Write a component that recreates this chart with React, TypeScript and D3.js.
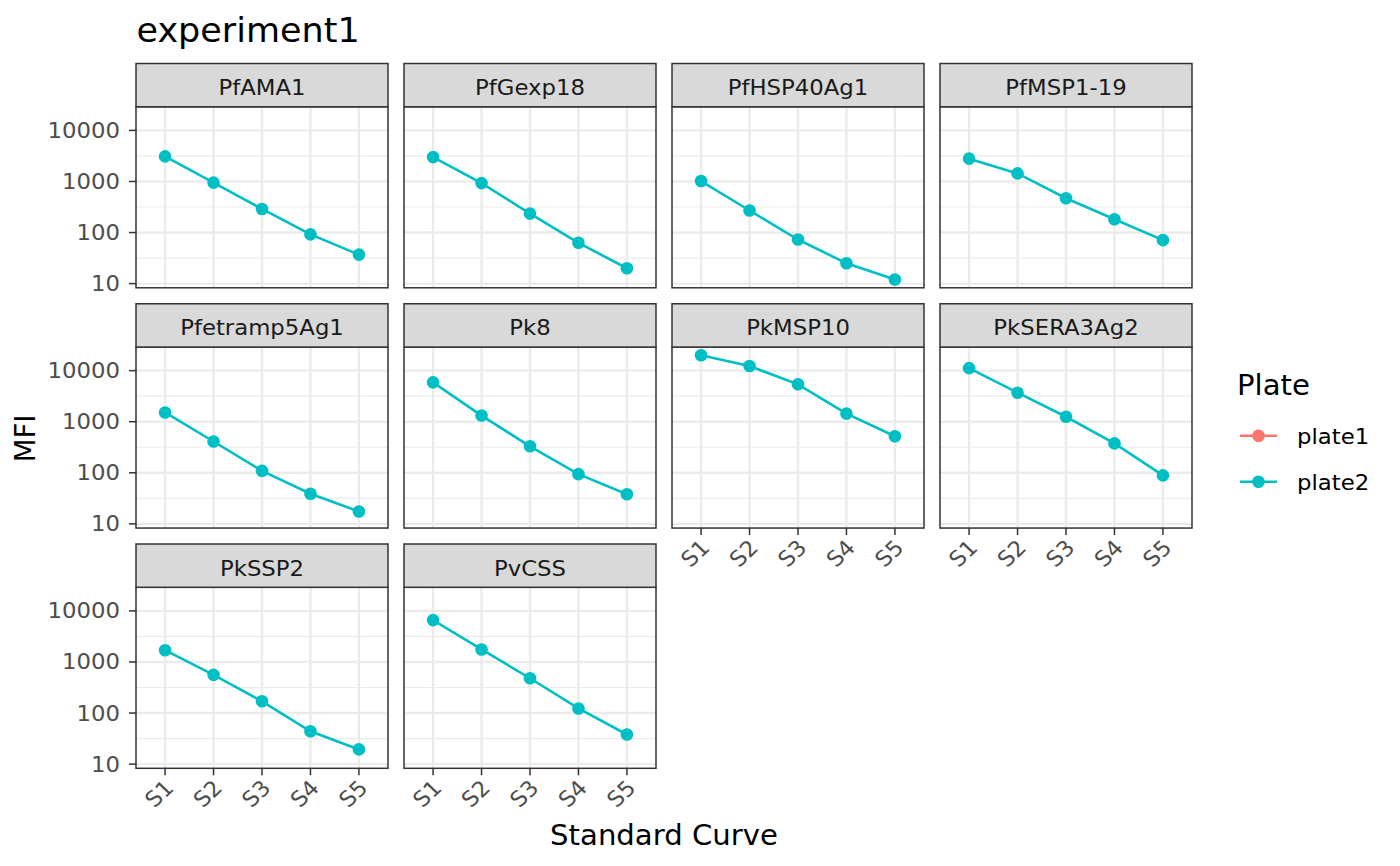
import React, { useRef, useEffect } from 'react';
import * as d3 from 'd3';

// ---- data ----
const antigens = [
  'PfAMA1', 'PfGexp18', 'PfHSP40Ag1', 'PfMSP1-19',
  'Pfetramp5Ag1', 'Pk8', 'PkMSP10', 'PkSERA3Ag2',
  'PkSSP2', 'PvCSS',
];
const standards = ['S1', 'S2', 'S3', 'S4', 'S5'];
const plates = ['plate1', 'plate2'];
const plateColors = ['#F8766D', '#00BFC4'];
// plate2 MFI for S1..S5 per antigen (plate1 sits hidden underneath in the reference)
const plate2MFI = [
  [3100, 950, 290, 92, 37],
  [3000, 930, 235, 63, 20],
  [1020, 270, 73, 25, 12],
  [2800, 1440, 470, 182, 71],
  [1520, 410, 109, 39, 17.5],
  [5900, 1320, 330, 94, 38],
  [20000, 12300, 5400, 1440, 520],
  [11200, 3700, 1250, 376, 89],
  [1700, 560, 170, 44, 19.4],
  [6600, 1760, 480, 123, 38],
];
const yTicks = [10, 100, 1000, 10000];
const yTickLabels = ['10', '100', '1000', '10000'];
const chartTitle = 'experiment1';
const xTitle = 'Standard Curve';
const yTitle = 'MFI';
const legendTitle = 'Plate';

const W = 1400;
const H = 866;

const App: React.FC = () => {
  const svgRef = useRef<SVGSVGElement | null>(null);

  useEffect(() => {
    if (!svgRef.current) return;
    document.body.style.margin = '0';
    const svg = d3.select(svgRef.current);
    svg.selectAll('*').remove();

    const font = '"DejaVu Sans", sans-serif';
    const colors = {
      grid: '#EBEBEB',
      border: '#333333',
      strip: '#D9D9D9',
      stripText: '#1A1A1A',
      axisText: '#4D4D4D',
      title: '#000000',
    };

    // layout
    const ncol = 4;
    const panelW = 252;
    const panelH = 181;
    const stripH = 43.3;
    const left0 = 136;
    const top0 = 63.5;
    const pitchX = 268;
    const pitchY = 240.25;
    const smallFont = 21.5;
    const bigFont = 27.5;
    const sx = 1.06; // the reference text runs a little wide

    // text helper: position, optional rotation, horizontal stretch
    type Sel = d3.Selection<any, unknown, null, undefined>;
    function label(parent: Sel, tx: number, ty: number, str: string, size: number,
                   fill: string, anchor = 'start', rot = 0) {
      return parent.append('text')
        .attr('transform', `translate(${tx},${ty}) scale(${sx},1)${rot ? ` rotate(${rot})` : ''}`)
        .attr('text-anchor', anchor)
        .attr('font-family', font)
        .attr('font-size', size)
        .attr('fill', fill)
        .text(str);
    }

    const x = d3.scalePoint<string>()
      .domain(standards)
      .range([0, panelW])
      .padding(0.6);

    const all = plate2MFI.flat();
    const lo = Math.log10(d3.min(all) as number);
    const hi = Math.log10(d3.max(all) as number);
    const pad = (hi - lo) * 0.05;
    const y = d3.scaleLog()
      .domain([Math.pow(10, lo - pad), Math.pow(10, hi + pad)])
      .range([panelH, 0]);
    const [d0, d1] = y.domain();
    const minor = d3.range(yTicks.length + 1)
      .map(i => {
        const a = i === 0 ? yTicks[0] / 10 : yTicks[i - 1];
        const b = i === yTicks.length ? yTicks[yTicks.length - 1] * 10 : yTicks[i];
        return Math.sqrt(a * b);
      })
      .filter(v => v >= d0 && v <= d1);

    const line = d3.line<number>()
      .x((_, i) => x(standards[i]) as number)
      .y(d => y(d));

    const root = svg as unknown as Sel;

    // title
    label(root, 136.5, 42, chartTitle, 33, colors.title);

    antigens.forEach((name, i) => {
      const col = i % ncol;
      const row = Math.floor(i / ncol);
      const px = left0 + col * pitchX;
      const sy = top0 + row * pitchY;
      const py = sy + stripH;
      const g = svg.append('g').attr('transform', `translate(${px},${py})`);

      g.append('rect')
        .attr('width', panelW)
        .attr('height', panelH)
        .attr('fill', '#FFFFFF');

      // grid
      minor.forEach(v => {
        g.append('line')
          .attr('x1', 0).attr('x2', panelW)
          .attr('y1', y(v)).attr('y2', y(v))
          .attr('stroke', colors.grid)
          .attr('stroke-width', 1.2);
      });
      yTicks.forEach(v => {
        g.append('line')
          .attr('x1', 0).attr('x2', panelW)
          .attr('y1', y(v)).attr('y2', y(v))
          .attr('stroke', colors.grid)
          .attr('stroke-width', 2.4);
      });
      standards.forEach(s => {
        g.append('line')
          .attr('x1', x(s) as number).attr('x2', x(s) as number)
          .attr('y1', 0).attr('y2', panelH)
          .attr('stroke', colors.grid)
          .attr('stroke-width', 2.4);
      });

      // series
      const vals = plate2MFI[i];
      g.append('path')
        .attr('d', line(vals) as string)
        .attr('fill', 'none')
        .attr('stroke', plateColors[1])
        .attr('stroke-width', 2.6);
      vals.forEach((v, j) => {
        g.append('circle')
          .attr('cx', x(standards[j]) as number)
          .attr('cy', y(v))
          .attr('r', 6.3)
          .attr('fill', plateColors[1]);
      });

      g.append('rect')
        .attr('width', panelW)
        .attr('height', panelH)
        .attr('fill', 'none')
        .attr('stroke', colors.border)
        .attr('stroke-width', 1.5);

      // strip
      svg.append('rect')
        .attr('x', px)
        .attr('y', sy)
        .attr('width', panelW)
        .attr('height', stripH)
        .attr('fill', colors.strip)
        .attr('stroke', colors.border)
        .attr('stroke-width', 1.5);
      label(root, px + panelW / 2, sy + 31.5, name, smallFont, colors.stripText, 'middle');

      // y axis on first column
      if (col === 0) {
        yTicks.forEach((v, k) => {
          g.append('line')
            .attr('x1', -7).attr('x2', 0)
            .attr('y1', y(v)).attr('y2', y(v))
            .attr('stroke', colors.border)
            .attr('stroke-width', 1.5);
          label(g as unknown as Sel, -16, y(v) + 7.5, yTickLabels[k], smallFont, colors.axisText, 'end');
        });
      }

      // x axis where no panel sits below
      if (i + ncol >= antigens.length) {
        standards.forEach(s => {
          const tx = x(s) as number;
          g.append('line')
            .attr('x1', tx).attr('x2', tx)
            .attr('y1', panelH).attr('y2', panelH + 7)
            .attr('stroke', colors.border)
            .attr('stroke-width', 1.5);
          label(g as unknown as Sel, tx + 10, panelH + 21, s, smallFont, colors.axisText, 'end', -45);
        });
      }
    });

    // axis titles
    label(root, 664, 845, xTitle, bigFont, colors.title, 'middle');
    label(root, 35, 438.5, yTitle, bigFont, colors.title, 'middle', -90);

    // legend
    const legend = svg.append('g').attr('transform', 'translate(1237,0)');
    label(legend as unknown as Sel, 0, 395, legendTitle, bigFont, colors.title);
    plates.forEach((p, k) => {
      const ky = 435.7 + k * 46;
      legend.append('line')
        .attr('x1', 3).attr('x2', 40)
        .attr('y1', ky).attr('y2', ky)
        .attr('stroke', plateColors[k])
        .attr('stroke-width', 2.6);
      legend.append('circle')
        .attr('cx', 21.5)
        .attr('cy', ky)
        .attr('r', 6.3)
        .attr('fill', plateColors[k]);
      label(legend as unknown as Sel, 60, ky + 8, p, smallFont, colors.title);
    });
  }, []);

  return <svg ref={svgRef} width={W} height={H} style={{ display: 'block' }}></svg>;
};

export default App;
